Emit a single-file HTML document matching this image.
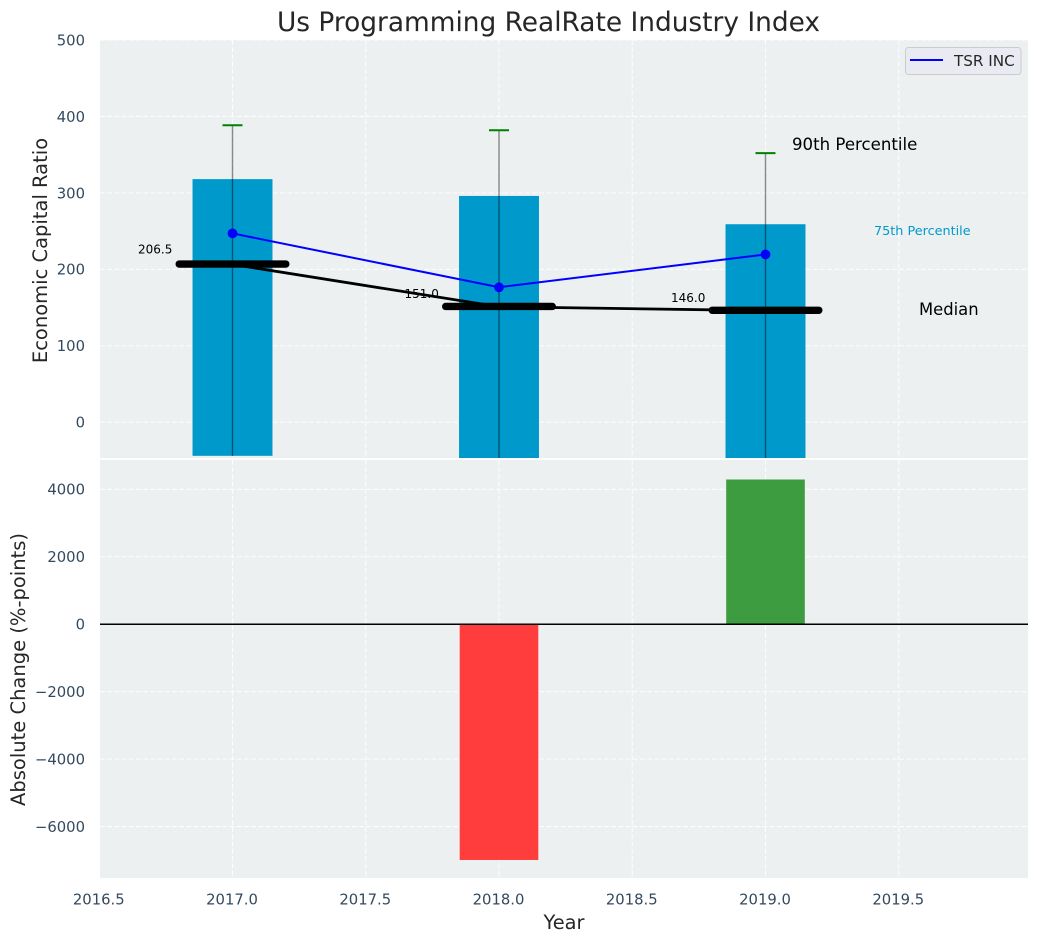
<!DOCTYPE html>
<html>
<head>
<meta charset="utf-8">
<title>Us Programming RealRate Industry Index</title>
<style>
html,body{margin:0;padding:0;background:#fff;width:1039px;height:942px;overflow:hidden}
svg{display:block;font-family:"DejaVu Sans","Liberation Sans",sans-serif}
</style>
</head>
<body>
<svg id="chart" xmlns="http://www.w3.org/2000/svg" width="1039" height="942" viewBox="0 0 1039 942"></svg>
<script>
const years = [2017, 2018, 2019];
const p90 = [388.5, 382, 352];
const p75 = [318, 296, 259];
const p25 = [-44, -60, -60];
const medianValues = [206.5, 151.0, 146.0];
const medianLabels = ['206.5', '151.0', '146.0'];
const tsrInc = [247, 176.5, 219.5];
const absChange = [0, -6990, 4290];
const xTicks = [2016.5, 2017.0, 2017.5, 2018.0, 2018.5, 2019.0, 2019.5];
const xTickLabels = ['2016.5', '2017.0', '2017.5', '2018.0', '2018.5', '2019.0', '2019.5'];
const topTicks = [0, 100, 200, 300, 400, 500];
const bottomTicks = [-6000, -4000, -2000, 0, 2000, 4000];

const NS = 'http://www.w3.org/2000/svg';
const svgRoot = document.getElementById('chart');
const L = 100, R = 1028;
const T1 = 40, B1 = 458, T2 = 460, B2 = 878;
const sx = v => 232.5 + (v - 2017) * 266.5;
const sy1 = v => 422.2 - v * 0.7644;
const sy2 = v => 624.2 - v * 0.03373;
const BARW = 0.3, BARW2 = 0.295, MEDW = 0.2;

function mk(tag, attrs, parent) {
  const e = document.createElementNS(NS, tag);
  for (const k in attrs) e.setAttribute(k, attrs[k]);
  (parent || svgRoot).appendChild(e);
  return e;
}
function txt(s, x, y, size, fill, anchor, parent) {
  const e = mk('text', {x: x, y: y, 'font-size': size, fill: fill, 'text-anchor': anchor || 'start'}, parent);
  e.textContent = s;
  return e;
}
const fmt = v => String(v).replace('-', '\u2212');
let el;

const defs = mk('defs', {});
const c1 = mk('clipPath', {id: 'clip-top'}, defs);
mk('rect', {x: L, y: T1, width: R - L, height: B1 - T1}, c1);
const c2 = mk('clipPath', {id: 'clip-bottom'}, defs);
mk('rect', {x: L, y: T2, width: R - L, height: B2 - T2}, c2);

el = mk('rect', {x: L, y: T1, width: R - L, height: B1 - T1, fill: '#ecf0f1'});


el = mk('rect', {x: L, y: T2, width: R - L, height: B2 - T2, fill: '#ecf0f1'});



const topPlot = mk('g', {'clip-path': 'url(#clip-top)'});


const botPlot = mk('g', {'clip-path': 'url(#clip-bottom)'});



const gridStyle = {stroke: '#fff', 'stroke-width': 1.1, 'stroke-dasharray': '5 2.2', 'stroke-opacity': 0.85};
xTicks.forEach(v => {
  const x = sx(v);
  el = mk('line', Object.assign({x1: x, x2: x, y1: T1, y2: B1}, gridStyle), topPlot);
  
  
  el = mk('line', Object.assign({x1: x, x2: x, y1: T2, y2: B2}, gridStyle), botPlot);
  
  
});
topTicks.forEach(v => {
  const y = sy1(v);
  el = mk('line', Object.assign({x1: L, x2: R, y1: y, y2: y}, gridStyle), topPlot);
  
  
});
bottomTicks.forEach(v => {
  const y = sy2(v);
  el = mk('line', Object.assign({x1: L, x2: R, y1: y, y2: y}, gridStyle), botPlot);
  
  
});

years.forEach((yr, i) => {
  const x0 = sx(yr - BARW / 2), x1 = sx(yr + BARW / 2);
  const yT = sy1(p75[i]), yB = sy1(p25[i]);
  el = mk('rect', {x: x0, y: yT, width: x1 - x0, height: yB - yT, fill: '#0099cc'}, topPlot);
  
  
});

years.forEach((yr, i) => {
  const x = sx(yr);
  el = mk('line', {x1: x, x2: x, y1: sy1(p90[i]), y2: sy1(p25[i]), stroke: '#000', 'stroke-opacity': 0.45, 'stroke-width': 1.4}, topPlot);
  
  
  el = mk('line', {x1: x - 10, x2: x + 10, y1: sy1(p90[i]), y2: sy1(p90[i]), stroke: '#008000', 'stroke-width': 2}, topPlot);
  
  
});

years.forEach((yr, i) => {
  const x = sx(yr) - 94.5;
  const y = sy1(medianValues[i]) - 11;
  el = txt(medianLabels[i], x, y + (i === 0 ? 0 : 2.3), 12, '#000', 'start', topPlot);
  
  
});

el = mk('polyline', {points: years.map((yr, i) => sx(yr) + ',' + sy1(medianValues[i])).join(' '), fill: 'none', stroke: '#000', 'stroke-width': 2.8}, topPlot);



years.forEach((yr, i) => {
  el = mk('line', {x1: sx(yr - MEDW), x2: sx(yr + MEDW), y1: sy1(medianValues[i]) - 0.3, y2: sy1(medianValues[i]) - 0.3, stroke: '#000', 'stroke-width': 7.4, 'stroke-linecap': 'round'}, topPlot);
  
  
});

el = mk('polyline', {points: years.map((yr, i) => sx(yr) + ',' + sy1(tsrInc[i])).join(' '), fill: 'none', stroke: '#0000ff', 'stroke-width': 2}, topPlot);


years.forEach((yr, i) => {
  el = mk('circle', {cx: sx(yr), cy: sy1(tsrInc[i]), r: 4.9, fill: '#0000ff'}, topPlot);
  
  
});

el = txt('90th Percentile', 792, 150, 16.6, '#000', 'start');


el = txt('75th Percentile', 874, 235, 12.8, '#0099cc', 'start');


el = txt('Median', 919, 315, 16.4, '#000', 'start');



years.forEach((yr, i) => {
  if (!absChange[i]) return;
  const x0 = sx(yr - BARW2 / 2), x1 = sx(yr + BARW2 / 2);
  const y0 = sy2(Math.max(absChange[i], 0)), y1 = sy2(Math.min(absChange[i], 0));
  el = mk('rect', {x: x0, y: y0, width: x1 - x0, height: y1 - y0, fill: absChange[i] > 0 ? '#3c9c3f' : '#ff3d3d'}, botPlot);
  
  
});
el = mk('line', {x1: L, x2: R, y1: sy2(0), y2: sy2(0), stroke: '#000', 'stroke-width': 1.1, 'shape-rendering': 'crispEdges'}, botPlot);



const TICK = '#34495e', LABEL = '#262626';
topTicks.forEach(v => {
  el = txt(fmt(v), 85, sy1(v) + 5.4, 14.8, TICK, 'end');
  
  
});
bottomTicks.forEach(v => {
  el = txt(fmt(v), 85, sy2(v) + 5.4, 14.8, TICK, 'end');
  
  
});
xTicks.forEach((v, i) => {
  el = txt(xTickLabels[i], sx(v) - 0.5, 904.5, 14.8, TICK, 'middle');
  
  
});

el = txt('Us Programming RealRate Industry Index', 548.5, 31, 26.4, LABEL, 'middle');


el = txt('Year', 564, 929, 19.4, LABEL, 'middle');


el = txt('Economic Capital Ratio', 0, 0, 19.5, LABEL, 'middle');
el.setAttribute('transform', 'translate(47 250.5) rotate(-90)');


el = txt('Absolute Change (%-points)', 0, 0, 19.5, LABEL, 'middle');
el.setAttribute('transform', 'translate(25 669.5) rotate(-90)');



const legendGroup = mk('g', {});


el = mk('rect', {x: 905.5, y: 47.5, width: 115.5, height: 27, rx: 3, fill: '#eaeaf2', 'fill-opacity': 0.9, stroke: '#cccccc', 'stroke-width': 1}, legendGroup);


el = mk('line', {x1: 910, x2: 943, y1: 60, y2: 60, stroke: '#0000ff', 'stroke-width': 2}, legendGroup);


el = txt('TSR INC', 954, 66, 15.2, LABEL, 'start', legendGroup);


</script>
</body>
</html>
